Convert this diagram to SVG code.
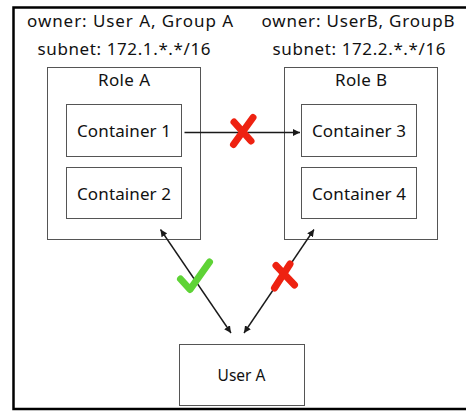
<svg xmlns="http://www.w3.org/2000/svg" width="466" height="412" viewBox="0 0 466 412">
<style>
text{font-family:"Noto Sans","Liberation Sans",sans-serif;font-size:17px;fill:#111;text-anchor:middle}
.box{fill:#fff;stroke:#555;stroke-width:1}
.conn{stroke:#1a1a1a;stroke-width:1.4;fill:none}
.no{stroke:#ee2211;stroke-width:7;stroke-linecap:round;fill:none}
.ok{stroke:#5ed336;stroke-width:7;stroke-linecap:round;stroke-linejoin:round;fill:none}
</style>
<defs>
<marker id="ah" viewBox="0 0 10 10" refX="10" refY="5" markerWidth="7" markerHeight="7" markerUnits="userSpaceOnUse" orient="auto-start-reverse">
<path d="M0,0 L10,5 L0,10 z" fill="#1a1a1a"/>
</marker>
</defs>
<rect width="466" height="412" fill="#fff"/>
<path d="M470,7.5 H13.5 V409 H470" fill="none" stroke="#000" stroke-width="2.5"/>
<g id="labels">
<text x="130" y="27" textLength="206">owner: User A, Group A</text>
<text x="358" y="27" textLength="193">owner: UserB, GroupB</text>
<text x="124" y="55" textLength="173">subnet: 172.1.*.*/16</text>
<text x="359" y="55" textLength="173">subnet: 172.2.*.*/16</text>
</g>
<g id="roleA">
<rect class="box" x="47.5" y="67.5" width="153" height="172"/>
<text x="124" y="86" textLength="52">Role A</text>
</g>
<g id="roleB">
<rect class="box" x="284.5" y="67.5" width="153" height="172"/>
<text x="361" y="86" textLength="52">Role B</text>
</g>
<g id="container1">
<rect class="box" x="66.5" y="104.5" width="115" height="52"/>
<text x="124" y="137" textLength="94">Container 1</text>
</g>
<g id="container2">
<rect class="box" x="66.5" y="167.5" width="115" height="51"/>
<text x="124" y="200" textLength="94">Container 2</text>
</g>
<g id="container3">
<rect class="box" x="301.5" y="104.5" width="115" height="52"/>
<text x="359" y="137" textLength="94">Container 3</text>
</g>
<g id="container4">
<rect class="box" x="301.5" y="167.5" width="115" height="51"/>
<text x="359" y="200" textLength="94">Container 4</text>
</g>
<g id="userA">
<rect class="box" x="179.5" y="344.5" width="125" height="61"/>
<text x="241.5" y="381" style="font-size:15.5px">User A</text>
</g>
<g id="connectors">
<line class="conn" x1="184.5" y1="132.5" x2="300" y2="132.5" marker-end="url(#ah)"/>
<line class="conn" x1="160.5" y1="229.5" x2="231" y2="333" marker-start="url(#ah)" marker-end="url(#ah)"/>
<line class="conn" x1="314" y1="229.5" x2="244" y2="333" marker-start="url(#ah)" marker-end="url(#ah)"/>
<path class="no" d="M253,117.5 L233.5,144.5 M234,122 L251,141"/>
<path class="ok" d="M180.5,279 L190,289.5 L209.5,262"/>
<path class="no" d="M290,264 L274.5,288 M276,265.5 L294.5,285"/>
</g>
</svg>
